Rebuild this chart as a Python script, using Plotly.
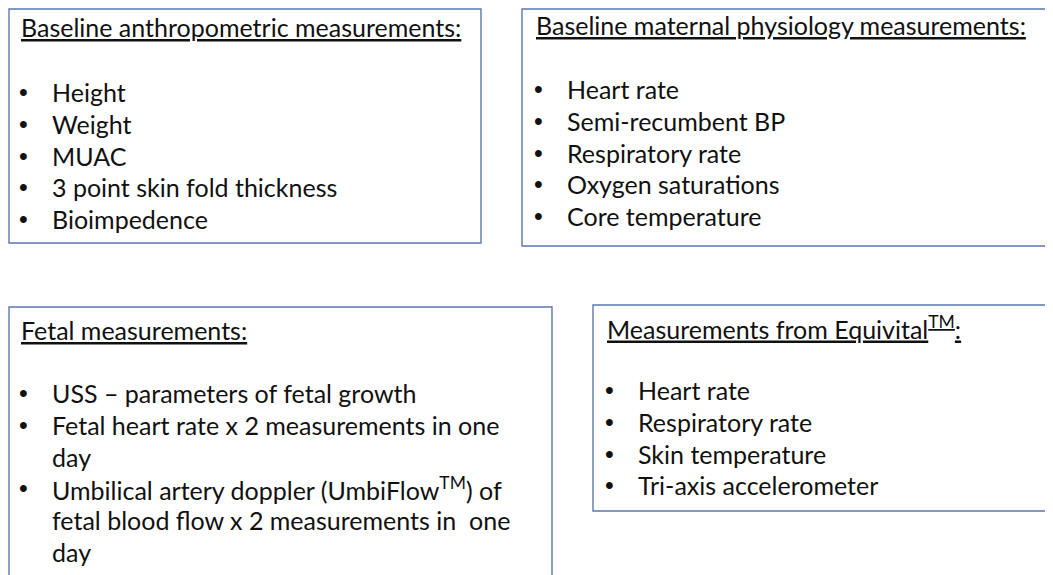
import plotly.graph_objects as go

# ---- content ----
titles = [
    "Baseline anthropometric measurements:",
    "Baseline maternal physiology measurements:",
    "Fetal measurements:",
    "Measurements from Equivital<sup>TM</sup>:",
]
items_anthro = ["Height", "Weight", "MUAC", "3 point skin fold thickness", "Bioimpedence"]
items_maternal = ["Heart rate", "Semi-recumbent BP", "Respiratory rate",
                  "Oxygen saturations", "Core temperature"]
items_fetal = [
    ["USS \u2013 parameters of fetal growth"],
    ["Fetal heart rate x 2 measurements in one", "day"],
    ["Umbilical artery doppler (UmbiFlow<sup>TM</sup>) of",
     "fetal blood flow x 2 measurements in\u00a0 one", "day"],
]
items_equivital = ["Heart rate", "Respiratory rate", "Skin temperature", "Tri-axis accelerometer"]

# ---- layout (pixel space of the page) ----
W, H = 1053, 575
OFF = 8  # default body margin of the html page
EDGE = OFF + 1  # first drawable page pixel
boxes = [  # x0, y0, x1, y1 (text anchored to reference positions)
    (7, 4, 481, 243),
    (522, 2, 1070, 246),
    (7, 307, 552, 600),
    (593, 305, 1070, 511),
]
title_y = [27, 25, 330, 327]
first_item_y = [92, 89, 393, 390]
line_h = 31.8
FONT = "Lato"
FS = 25
COLOR = "#111111"
BORDER = "#5a79b0"

groups = [
    [[s] for s in items_anthro],
    [[s] for s in items_maternal],
    items_fetal,
    [[s] for s in items_equivital],
]

fig = go.Figure()
shapes = []
annotations = []
for (x0, y0, x1, y1), title, ty, fy, grp in zip(boxes, titles, title_y, first_item_y, groups):
    shapes.append(dict(type="rect", xref="x", yref="y",
                       x0=max(x0, EDGE), y0=max(y0, EDGE), x1=x1, y1=y1,
                       line=dict(color=BORDER, width=1.4), fillcolor="rgba(0,0,0,0)"))
    annotations.append(dict(x=x0 + 12, y=ty, xref="x", yref="y", text="<u>" + title + "</u>",
                            showarrow=False, xanchor="left", yanchor="middle",
                            font=dict(family=FONT, size=FS, color=COLOR)))
    y = fy
    for entry in grp:
        annotations.append(dict(x=x0 + 10, y=y, xref="x", yref="y", text="\u2022",
                                showarrow=False, xanchor="left", yanchor="middle",
                                font=dict(family="Arial", size=FS, color=COLOR)))
        for line in entry:
            annotations.append(dict(x=x0 + 43, y=y, xref="x", yref="y", text=line,
                                    showarrow=False, xanchor="left", yanchor="middle",
                                    font=dict(family=FONT, size=FS, color=COLOR)))
            y += line_h

fig.update_layout(
    width=W, height=H,
    margin=dict(l=0, r=0, t=0, b=0),
    paper_bgcolor="white", plot_bgcolor="white",
    xaxis=dict(range=[OFF, W + OFF], visible=False, fixedrange=True),
    yaxis=dict(range=[H + OFF, OFF], visible=False, fixedrange=True),
    shapes=shapes, annotations=annotations, showlegend=False,
)
fig.write_html("out.html")
